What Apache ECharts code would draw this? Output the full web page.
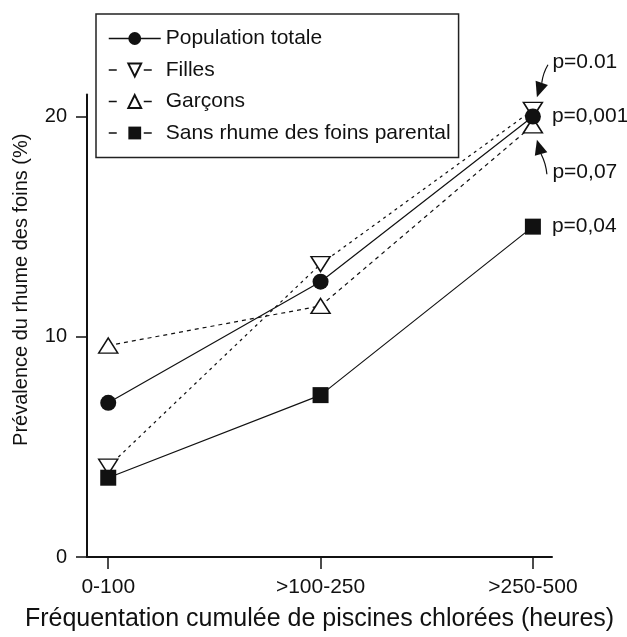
<!DOCTYPE html>
<html>
<head>
<meta charset="utf-8">
<script src="https://cdn.jsdelivr.net/npm/echarts@6/dist/echarts.min.js"></script>
<style>
  html, body { margin: 0; padding: 0; background: #fff; }
  #chart { width: 627px; height: 637px; }
</style>
</head>
<body>
<div id="chart"></div>
<script>
// categories on the x axis (placed at 0, 1, 2)
const categories = ['0-100', '>100-250', '>250-500']
const categoryPos = [0, 1, 2]
const yTicks = [0, 10, 20]

// prévalence (%)
const popTotale = [7.0, 12.5, 20.0]
const filles = [4.1, 13.3, 20.3]
const garcons = [9.6, 11.4, 19.6]
const sansRhume = [3.6, 7.35, 15.0]

// p-values written next to the last points
const pPop = 'p=0,001'
const pSans = 'p=0,04'
// arrow notes, in data units: tail of the arrow, tip of the arrow, start of the text
const noteTexts = ['p=0.01', 'p=0,07']
const noteTails = [[2.071, 22.35], [2.066, 17.38]]
const noteTips = [[2.019, 20.88], [2.019, 18.95]]
const noteAnchors = [[2.092, 22.46], [2.092, 17.46]]

const font = "'Liberation Sans', Arial, sans-serif"
const ink = '#111'

function pairs(values) {
  return categoryPos.map((x, i) => [x, values[i]])
}

function withLastLabel(values, text) {
  const data = pairs(values)
  const last = data.length - 1
  data[last] = {
    value: data[last],
    label: { show: true, position: 'right', distance: 11, formatter: text, color: ink, fontSize: 21, fontFamily: font }
  }
  return data
}

const chart = echarts.init(document.getElementById('chart'), null, { renderer: 'canvas' })

chart.setOption({
  backgroundColor: '#fff',
  animation: false,
  grid: { left: 87, right: 75, top: 94.5, bottom: 75.3, containLabel: false },
  legend: {
    orient: 'vertical',
    left: 96,
    top: 14,
    padding: [14, 8, 14, 12],
    borderColor: '#222',
    borderWidth: 1.5,
    itemWidth: 52,
    itemHeight: 16,
    itemGap: 10.5,
    textStyle: { color: ink, fontSize: 21, fontFamily: font, lineHeight: 20 },
    data: [
      { name: 'Population totale', lineStyle: { type: 'solid', width: 1.5 } },
      { name: 'Filles', lineStyle: { type: [8, 27], width: 1.5 } },
      { name: 'Garçons', lineStyle: { type: [8, 27], width: 1.5 } },
      { name: 'Sans rhume des foins parental', lineStyle: { type: [8, 27], width: 1.5 } }
    ]
  },
  xAxis: {
    type: 'value',
    min: -0.1,
    max: 2.09,
    name: 'Fréquentation cumulée de piscines chlorées (heures)',
    nameLocation: 'middle',
    nameGap: 50,
    nameTextStyle: { color: ink, fontSize: 25, fontFamily: font },
    splitLine: { show: false },
    axisLine: { lineStyle: { color: '#111', width: 2 } },
    axisTick: { customValues: categoryPos, length: 12, lineStyle: { color: '#111', width: 1.5 } },
    axisLabel: {
      customValues: categoryPos,
      margin: 20,
      color: ink,
      fontSize: 21,
      fontFamily: font,
      formatter: v => categories[Math.round(v)]
    }
  },
  yAxis: {
    type: 'value',
    min: 0,
    max: 21,
    name: 'Prévalence du rhume des foins (%)',
    nameLocation: 'middle',
    nameRotate: 90,
    nameGap: 56,
    nameTextStyle: { color: ink, fontSize: 20, fontFamily: font, padding: [0, 0, 0, 72] },
    splitLine: { show: false },
    axisLine: { show: true, onZero: false, lineStyle: { color: '#111', width: 2 } },
    axisTick: { show: true, customValues: yTicks, length: 11, lineStyle: { color: '#111', width: 1.5 } },
    axisLabel: { customValues: yTicks, margin: 20, color: ink, fontSize: 20, fontFamily: font }
  },
  series: [
    {
      name: 'Filles',
      type: 'line',
      clip: false,
      data: pairs(filles),
      symbol: 'triangle',
      symbolRotate: 180,
      symbolSize: [19, 15],
      itemStyle: { color: '#fff', borderColor: ink, borderWidth: 1.5 },
      lineStyle: { color: ink, width: 1.2, type: [3, 4] },
      z: 2
    },
    {
      name: 'Garçons',
      type: 'line',
      clip: false,
      data: pairs(garcons),
      symbol: 'triangle',
      symbolSize: [19, 15],
      itemStyle: { color: '#fff', borderColor: ink, borderWidth: 1.5 },
      lineStyle: { color: ink, width: 1.2, type: [4, 4] },
      z: 3
    },
    {
      name: 'Sans rhume des foins parental',
      type: 'line',
      clip: false,
      data: withLastLabel(sansRhume, pSans),
      symbol: 'rect',
      symbolSize: 16,
      itemStyle: { color: ink },
      lineStyle: { color: ink, width: 1.2, type: 'solid' },
      z: 4
    },
    {
      name: 'Population totale',
      type: 'line',
      clip: false,
      data: withLastLabel(popTotale, pPop),
      symbol: 'circle',
      symbolSize: 16,
      itemStyle: { color: ink },
      lineStyle: { color: ink, width: 1.2, type: 'solid' },
      z: 5
    }
  ]
})

// arrows + p-value notes, placed through the chart's own scales
function drawNotes() {
  const toPx = p => chart.convertToPixel({ gridIndex: 0 }, p)
  const elements = []
  noteTails.forEach((tailData, i) => {
    const tail = toPx(tailData)
    const tip = toPx(noteTips[i])
    const dx = tip[0] - tail[0]
    const dy = tip[1] - tail[1]
    const len = Math.sqrt(dx * dx + dy * dy)
    const ux = dx / len
    const uy = dy / len
    const head = 15
    const half = 6.5
    const base = [tip[0] - ux * head, tip[1] - uy * head]
    const mid = [(tail[0] + base[0]) / 2 - uy * 2, (tail[1] + base[1]) / 2 + ux * 2]
    elements.push({
      type: 'bezierCurve',
      silent: true,
      shape: { x1: tail[0], y1: tail[1], x2: base[0], y2: base[1], cpx1: mid[0], cpy1: mid[1] },
      style: { stroke: ink, lineWidth: 1.2, fill: null }
    })
    elements.push({
      type: 'polygon',
      silent: true,
      shape: {
        points: [
          tip,
          [base[0] - uy * half, base[1] + ux * half],
          [base[0] + uy * half, base[1] - ux * half]
        ]
      },
      style: { fill: ink }
    })
    const anchor = toPx(noteAnchors[i])
    elements.push({
      type: 'text',
      silent: true,
      x: anchor[0],
      y: anchor[1],
      style: {
        text: noteTexts[i],
        fill: ink,
        font: '21px ' + font,
        textAlign: 'left',
        textVerticalAlign: 'middle'
      }
    })
  })
  chart.setOption({ graphic: elements })
}

drawNotes()
</script>
</body>
</html>
